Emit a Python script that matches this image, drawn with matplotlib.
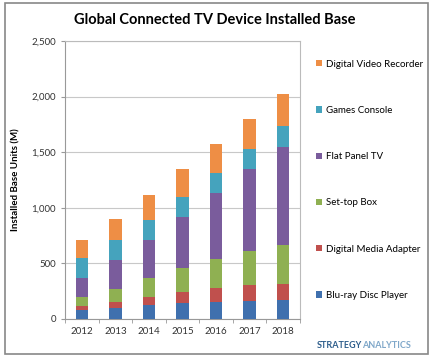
import matplotlib
matplotlib.use("Agg")
import matplotlib.pyplot as plt
from matplotlib.patches import Rectangle
from matplotlib.ticker import FuncFormatter, FixedLocator
import numpy as np

plt.rcParams['font.family'] = ['Lato', 'DejaVu Sans']

years = ['2012', '2013', '2014', '2015', '2016', '2017', '2018']
series_names = ['Blu-ray Disc Player', 'Digital Media Adapter', 'Set-top Box',
                'Flat Panel TV', 'Games Console', 'Digital Video Recorder']
bluray = [84, 102, 123, 144, 153, 162, 168]
media_adapter = [36, 51, 75, 99, 129, 141, 150]
settop = [78, 117, 168, 216, 261, 309, 351]
flat_tv = [168, 258, 348, 459, 588, 735, 882]
games = [186, 180, 180, 180, 183, 183, 183]
dvr = [159, 195, 222, 249, 264, 273, 288]
colors = ['#3F70AE', '#C0504D', '#8FB052', '#7A5C9C', '#45A3BD', '#EE8E45']

data = [bluray, media_adapter, settop, flat_tv, games, dvr]

fig = plt.figure(figsize=(4.30, 3.57), dpi=100)
ax = fig.add_axes([65/430, 1-319/357, 235/430, 278/357])

x = np.arange(len(years))
bottom = np.zeros(len(years))
handles = []
for vals, c, name in zip(data, colors, series_names):
    h = ax.bar(x, vals, width=0.37, bottom=bottom, color=c, label=name, zorder=3)
    handles.append(h)
    bottom += np.array(vals)

ax.set_xlim(-0.5, len(years) - 0.5)
ax.set_ylim(0, 2500)
ax.set_yticks(np.arange(0, 2501, 500))
ax.yaxis.set_major_formatter(FuncFormatter(lambda v, p: f"{int(v):,}"))
ax.set_xticks(x)
ax.set_xticklabels(years)
ax.xaxis.set_minor_locator(FixedLocator(np.arange(-0.5, len(years), 1.0)))
ax.tick_params(axis='x', which='major', length=0, labelsize=7, pad=6, colors='#333333')
ax.tick_params(axis='x', which='minor', length=3, color='#999999')
ax.tick_params(axis='y', length=3, color='#999999', labelsize=7, colors='#333333')
ax.grid(axis='y', color='#C8C8C8', linewidth=0.8, zorder=0)
for s in ax.spines.values():
    s.set_color('#BBBBBB')
    s.set_linewidth(0.8)
ax.spines['left'].set_color('#999999')
ax.spines['bottom'].set_color('#999999')

ax.set_ylabel('Installed Base Units (M)', fontsize=7, fontweight='bold', labelpad=8)

leg = fig.legend(handles[::-1], series_names[::-1], loc='upper left',
                 bbox_to_anchor=(307/430, 1-51/357), frameon=False,
                 fontsize=7, handlelength=0.6, handleheight=0.6,
                 handletextpad=0.5, labelspacing=3.83)

fig.text(215/430, 1-20/357, 'Global Connected TV Device Installed Base',
         ha='center', va='center', fontsize=10.5, fontweight='bold')

fig.text(362/430, 1-346/357, 'STRATEGY', ha='right', va='center', fontsize=6.5,
         fontweight='bold', color='#2E5E8C')
fig.text(362/430, 1-346/357, 'ANALYTICS', ha='left', va='center', fontsize=6.5,
         fontweight='bold', color='#7FA7C9')

fig.patches.append(Rectangle((5/430, 3/357), 423/430, 351/357, transform=fig.transFigure,
                             fill=False, edgecolor='#888888', linewidth=1.2))

fig.savefig('out.png', dpi=100)
